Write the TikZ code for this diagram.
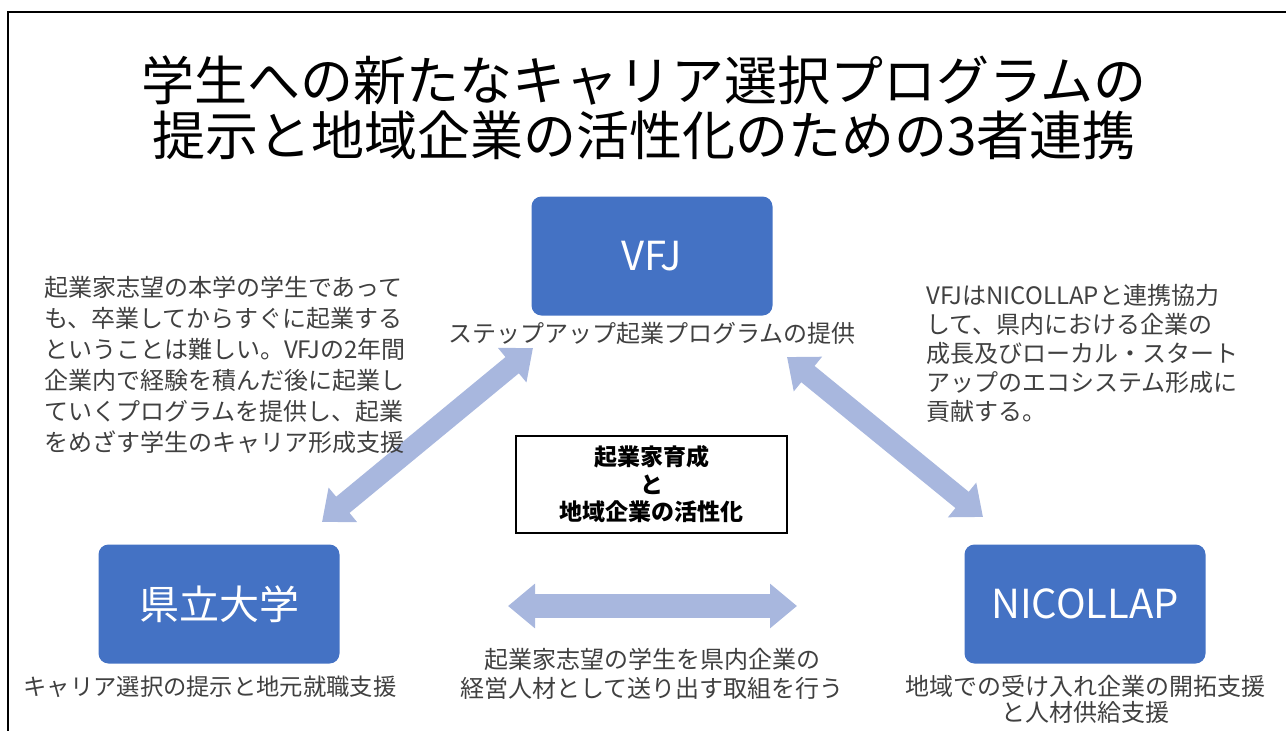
\documentclass[tikz,border=0pt]{standalone}
\usepackage{fontspec}
\setmainfont{Noto Sans CJK JP}
\usetikzlibrary{arrows.meta}
\usetikzlibrary{positioning}
\definecolor{boxblue}{RGB}{68,114,196}
\definecolor{pale}{RGB}{168,183,222}
\definecolor{txtgray}{RGB}{64,64,64}
\tikzset{
  orgbox/.style={fill=boxblue,rounded corners=10pt,minimum width=241pt,minimum height=119pt,text=white,inner sep=0pt,font=\fontsize{40}{44}\selectfont},
  capt/.style={text=txtgray,align=center,inner sep=0pt,anchor=base,font=\fontsize{24}{29}\selectfont},
  note/.style={text=txtgray,align=left,inner sep=0pt,anchor=base west},
  fat/.style={draw=pale,line width=21pt,{Triangle[length=27pt,width=43pt]}-{Triangle[length=27pt,width=43pt]}}
}
\begin{document}
\begin{tikzpicture}[line cap=butt,line join=miter,x=1pt,y=-1pt]
\useasboundingbox (0,0) rectangle (1286,731);
\draw[line width=2pt,color=black] (1286,12) -- (8,12) -- (8,731);
% arrows
\coordinate (l1) at (322,522);
\coordinate (l2) at (533,348);
\coordinate (r1) at (787,357);
\coordinate (r2) at (983,517);
\coordinate (h1) at (508,606);
\coordinate (h2) at (797,606);
\draw[fat] (l1) -- (l2);
\draw[fat] (r1) -- (r2);
\draw[fat,line width=24pt] (h1) -- (h2);
\node[anchor=base,align=center,inner sep=0pt,font=\fontsize{53}{55}\selectfont] (title) at (644,155)
  {学生への新たなキャリア選択プログラムの\\提示と地域企業の活性化のための3者連携};
% three partners
\node[orgbox] (vfj) at (652,256) {VFJ};
\node[orgbox] (uni) at (219,604) {県立大学};
\node[orgbox] (nic) at (1085,604) {NICOLLAP};
\node[capt] (vfjcap) at (652,342) {ステップアップ起業プログラムの提供};
\node[capt,font=\fontsize{23.3}{28}\selectfont] (unicap) at (210,695) {キャリア選択の提示と地元就職支援};
\node[capt,font=\fontsize{24}{26}\selectfont] (niccap) at (1085,721) {地域での受け入れ企業の開拓支援\\と人材供給支援};
\node[capt] (midcap) at (652,697) {起業家志望の学生を県内企業の\\経営人材として送り出す取組を行う};
% centre box
\node[draw=black,line width=1.5pt,minimum width=271pt,minimum height=97pt,align=center,
  font=\bfseries\fontsize{23}{27.5}\selectfont] (goal) at (651.5,484.5) {起業家育成\\と\\地域企業の活性化};
% side notes
\node[note,font=\fontsize{24}{31}\selectfont] (leftnote) at (44,451)
  {起業家志望の本学の学生であって\\も、卒業してからすぐに起業する\\ということは難しい。VFJの2年間\\企業内で経験を積んだ後に起業し\\ていくプログラムを提供し、起業\\をめざす学生のキャリア形成支援};
\node[note,font=\fontsize{24}{29}\selectfont] (rightnote) at (926,420)
  {VFJはNICOLLAPと連携協力\\して、県内における企業の\\成長及びローカル・スタート\\アップのエコシステム形成に\\貢献する。};
\end{tikzpicture}
\end{document}
